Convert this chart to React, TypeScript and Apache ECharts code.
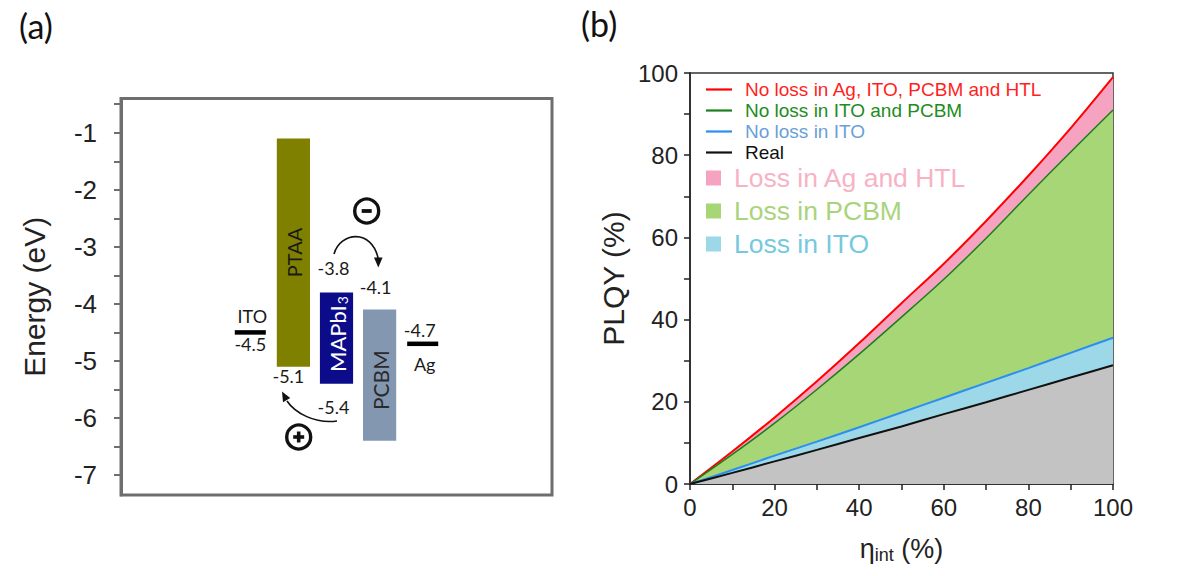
import { useEffect, useRef } from "react";
import * as echarts from "echarts";

// ---------- (a) energy-level diagram, values in eV ----------
const layerNames = ["PTAA", "MAPbI3", "PCBM"];
const layerTop = [-1.1, -3.8, -4.1];
const layerBottom = [-5.1, -5.4, -6.4];
const electrodeNames = ["ITO", "Ag"];
const electrodeLevels = [-4.5, -4.7];
const energyTicks = [-1, -2, -3, -4, -5, -6, -7];

// ---------- (b) PLQY versus internal efficiency, in % ----------
const etaInt = [0, 10, 20, 30, 40, 50, 60, 70, 80, 90, 100];
const plqyNoLossAll = [0, 7.9, 16.2, 25.0, 34.3, 44.0, 53.6, 64.0, 75.0, 86.6, 99.0];
const plqyNoLossItoPcbm = [0, 7.2, 14.8, 23.0, 31.6, 40.6, 49.8, 59.8, 70.4, 80.8, 91.0];
const plqyNoLossIto = [0, 3.4, 6.9, 10.3, 13.8, 17.4, 21.0, 24.6, 28.2, 31.9, 35.6];
const plqyReal = [0, 2.7, 5.5, 8.3, 11.2, 14.0, 17.0, 19.9, 22.9, 25.9, 28.9];
const plqyTicks = [0, 20, 40, 60, 80, 100];

const lineNames = [
  "No loss in Ag, ITO, PCBM and HTL",
  "No loss in ITO and PCBM",
  "No loss in ITO",
  "Real",
];
const lossNames = ["Loss in Ag and HTL", "Loss in PCBM", "Loss in ITO"];

// ---------- styling ----------
const SANS = "Liberation Sans, Arial, sans-serif";
const HUMANIST = "Lato, Open Sans, sans-serif";
const layerColors = ["#7f7f00", "#0c0c8a", "#8497b0"];
const layerTextColors = ["#1a1a1a", "#ffffff", "#2a2a2a"];
const layerFontSize = [20, 22, 21];
const layerNameShift = [0, -4, 5];
const topLabelGap = [0, 24, 23];
const bottomLabelGap = [9, 23, 0];
const labelShiftX = [-5, -3, -4];
const lineColors = ["#ff0000", "#1b7f1b", "#2a8ff0", "#111111"];
const lineWidths = [2, 1.5, 2, 2];
const lineTextColors = ["#ff1f1f", "#1e8c1e", "#6a9fd8", "#111111"];
const lossColors = ["#f6a3c1", "#a6d676", "#9dd8e8"];
const lossTextColors = ["#f7b3c4", "#a9d47c", "#74c9e0"];
const realFill = "#c3c3c3";
const LINE_ICON = "path://M0 0H26V2.2H0Z";

// horizontal slots of the diagram (hidden x axis runs 0..100)
const slotX = (k: number) => 30 + 10 * k;
const BAR_HALF = 3.85;
const ELECTRODE_HALF = 3.6;

const fmt = (v: number) => v.toFixed(1);
const richName = (n: string) =>
  n.replace(/^(.*?)(\d+)$/, "{m|$1}{s|$2}").replace(/^([^{].*)$/, "{m|$1}");

export default function App() {
  const ref = useRef<HTMLDivElement>(null);

  useEffect(() => {
    if (!ref.current) return;
    const chart = echarts.init(ref.current, undefined, { renderer: "svg" });

    const levelText = (text: string, x: number, y: number) => ({
      type: "text",
      x,
      y,
      style: {
        text,
        fill: "#1a1a1a",
        font: `18px ${HUMANIST}`,
        align: "center",
        verticalAlign: "middle",
      },
    });

    const layerSeries = {
      type: "custom",
      xAxisIndex: 0,
      yAxisIndex: 0,
      z: 3,
      data: layerNames.map((_, i) => [i, layerTop[i], layerBottom[i]]),
      renderItem: (_p: any, api: any) => {
        const i = api.value(0);
        const cx = slotX(i + 1);
        const tl = api.coord([cx - BAR_HALF, api.value(1)]);
        const br = api.coord([cx + BAR_HALF, api.value(2)]);
        const midX = (tl[0] + br[0]) / 2;
        const children: any[] = [
          {
            type: "rect",
            shape: { x: tl[0], y: tl[1], width: br[0] - tl[0], height: br[1] - tl[1] },
            style: { fill: layerColors[i] },
          },
          {
            type: "text",
            x: midX + 1,
            y: (tl[1] + br[1]) / 2 + layerNameShift[i],
            rotation: Math.PI / 2,
            style: {
              text: richName(layerNames[i]),
              align: "center",
              verticalAlign: "middle",
              rich: {
                m: {
                  fill: layerTextColors[i],
                  fontSize: layerFontSize[i],
                  fontFamily: HUMANIST,
                  lineHeight: 24,
                },
                s: {
                  fill: layerTextColors[i],
                  fontSize: 14,
                  fontFamily: HUMANIST,
                  lineHeight: 24,
                  padding: [9, 0, 0, 1],
                },
              },
            },
          },
        ];
        if (topLabelGap[i] > 0)
          children.push(levelText(fmt(api.value(1)), midX + labelShiftX[i], tl[1] - topLabelGap[i]));
        if (bottomLabelGap[i] > 0)
          children.push(levelText(fmt(api.value(2)), midX + labelShiftX[i], br[1] + bottomLabelGap[i]));
        return { type: "group", children };
      },
    };

    const electrodeSeries = {
      type: "custom",
      xAxisIndex: 0,
      yAxisIndex: 0,
      z: 3,
      data: electrodeNames.map((_, i) => [i, electrodeLevels[i]]),
      renderItem: (_p: any, api: any) => {
        const i = api.value(0);
        const cx = slotX(i === 0 ? 0 : 4);
        const a = api.coord([cx - ELECTRODE_HALF, api.value(1)]);
        const b = api.coord([cx + ELECTRODE_HALF, api.value(1)]);
        const mid = (a[0] + b[0]) / 2;
        const valueText = fmt(api.value(1));
        const children: any[] = [
          {
            type: "line",
            shape: { x1: a[0], y1: a[1], x2: b[0], y2: b[1] },
            style: { stroke: "#000", lineWidth: 4.5 },
          },
        ];
        if (i === 0) {
          children.push(levelText(electrodeNames[i], mid + 2, a[1] - 16));
          children.push(levelText(valueText, mid, a[1] + 12));
        } else {
          children.push(levelText(valueText, mid - 3, a[1] - 14));
          children.push(levelText(electrodeNames[i], mid + 2, a[1] + 20));
        }
        return { type: "group", children };
      },
    };

    const toPairs = (ys: number[]) => etaInt.map((x, k) => [x, ys[k]]);
    const lossData = [plqyNoLossAll, plqyNoLossItoPcbm, plqyNoLossIto];
    const lineData = [plqyNoLossAll, plqyNoLossItoPcbm, plqyNoLossIto, plqyReal];

    const lossSeries = lossNames.map((name, k) => ({
      name,
      type: "line",
      xAxisIndex: 1,
      yAxisIndex: 1,
      z: 1,
      smooth: 0.3,
      showSymbol: false,
      symbol: "none",
      color: lossColors[k],
      itemStyle: { color: lossColors[k] },
      lineStyle: { width: 0 },
      areaStyle: { color: lossColors[k], opacity: 1 },
      data: toPairs(lossData[k]),
    }));

    const realArea = {
      name: "realArea",
      type: "line",
      xAxisIndex: 1,
      yAxisIndex: 1,
      z: 1,
      smooth: 0.3,
      showSymbol: false,
      symbol: "none",
      lineStyle: { width: 0 },
      areaStyle: { color: realFill, opacity: 1 },
      data: toPairs(plqyReal),
    };

    const lineSeries = lineNames.map((name, k) => ({
      name,
      type: "line",
      xAxisIndex: 1,
      yAxisIndex: 1,
      z: 3,
      smooth: 0.3,
      showSymbol: false,
      symbol: "none",
      color: lineColors[k],
      itemStyle: { color: lineColors[k] },
      lineStyle: { color: lineColors[k], width: lineWidths[k] },
      data: toPairs(lineData[k]),
    }));

    const tickCustom = energyTicks.flatMap((v) => [v + 0.5, v]);

    const option: any = {
      animation: false,
      backgroundColor: "#ffffff",
      grid: [
        {
          left: 121,
          top: 98.5,
          width: 431,
          height: 396.5,
          show: true,
          borderColor: "#6e6e6e",
          borderWidth: 3,
        },
        {
          left: 690,
          top: 73,
          width: 423,
          height: 411,
          show: true,
          borderColor: "#333",
          borderWidth: 1.5,
        },
      ],
      xAxis: [
        { gridIndex: 0, type: "value", min: 0, max: 100, show: false },
        {
          gridIndex: 1,
          type: "value",
          min: 0,
          max: 100,
          interval: 20,
          name: "{e|η}{s|int}{e| (%)}",
          nameLocation: "middle",
          nameGap: 50,
          nameTextStyle: {
            rich: {
              e: { fontSize: 27, fontFamily: SANS, color: "#222" },
              s: { fontSize: 18, fontFamily: SANS, color: "#222", padding: [12, 0, 0, 0] },
            },
          },
          axisLine: { show: true, onZero: false, lineStyle: { color: "#222", width: 1.5 } },
          axisTick: { show: true, inside: false, length: 6, lineStyle: { color: "#222", width: 1.5 } },
          minorTick: { show: true, splitNumber: 2, length: 6, lineStyle: { color: "#222", width: 1.5 } },
          axisLabel: {
            margin: 11,
            fontSize: 24,
            fontFamily: SANS,
            color: "#222",
            customValues: plqyTicks,
          },
          splitLine: { show: false },
        },
      ],
      yAxis: [
        {
          gridIndex: 0,
          type: "value",
          min: -7.35,
          max: -0.4,
          name: "Energy (eV)",
          nameLocation: "middle",
          nameGap: 72,
          nameTextStyle: { fontSize: 30, fontFamily: SANS, color: "#222" },
          axisLine: { show: true, onZero: false, lineStyle: { color: "#6e6e6e", width: 3 } },
          axisTick: {
            show: true,
            inside: false,
            length: 7,
            customValues: tickCustom,
            lineStyle: { color: "#6e6e6e", width: 2 },
          },
          axisLabel: {
            margin: 24,
            fontSize: 26,
            fontFamily: SANS,
            color: "#222",
            customValues: energyTicks,
          },
          splitLine: { show: false },
        },
        {
          gridIndex: 1,
          type: "value",
          min: 0,
          max: 100,
          interval: 20,
          name: "PLQY (%)",
          nameLocation: "middle",
          nameGap: 62,
          nameTextStyle: { fontSize: 30, fontFamily: SANS, color: "#222" },
          axisLine: { show: true, onZero: false, lineStyle: { color: "#222", width: 1.5 } },
          axisTick: { show: true, inside: false, length: 6, lineStyle: { color: "#222", width: 1.5 } },
          minorTick: { show: true, splitNumber: 2, length: 6, lineStyle: { color: "#222", width: 1.5 } },
          axisLabel: { margin: 12, fontSize: 24, fontFamily: SANS, color: "#222" },
          splitLine: { show: false },
        },
      ],
      legend: [
        {
          orient: "vertical",
          left: 706,
          top: 80,
          padding: 0,
          itemGap: 2,
          itemWidth: 26,
          itemHeight: 12,
          selectedMode: false,
          textStyle: { fontSize: 19, fontFamily: SANS, lineHeight: 19, padding: [0, 0, 0, 8] },
          data: lineNames.map((name, k) => ({
            name,
            icon: LINE_ICON,
            textStyle: { color: lineTextColors[k] },
          })),
        },
        {
          orient: "vertical",
          left: 706,
          top: 164,
          padding: 0,
          itemGap: 5,
          itemWidth: 15,
          itemHeight: 15,
          icon: "rect",
          selectedMode: false,
          textStyle: { fontSize: 26.5, fontFamily: SANS, lineHeight: 28, padding: [0, 0, 0, 8] },
          data: lossNames.map((name, k) => ({ name, textStyle: { color: lossTextColors[k] } })),
        },
      ],
      graphic: [
        {
          type: "text",
          left: 19,
          top: 8,
          style: { text: "(a)", font: `34px ${HUMANIST}`, fill: "#111" },
        },
        {
          type: "text",
          left: 581,
          top: 6,
          style: { text: "(b)", font: `34px ${HUMANIST}`, fill: "#111" },
        },
        // electron transfer arrow with charge marker
        {
          type: "bezierCurve",
          shape: { x1: 334, y1: 254, cpx1: 340, cpy1: 232, cpx2: 372, cpy2: 228, x2: 378.3, y2: 259 },
          style: { stroke: "#111", lineWidth: 1.6, fill: null },
          z: 10,
        },
        {
          type: "polygon",
          shape: { points: [[378.3, 267.5], [374, 257.5], [382.6, 257.5]] },
          style: { fill: "#111" },
          z: 10,
        },
        {
          type: "circle",
          shape: { cx: 366.7, cy: 211, r: 12 },
          style: { stroke: "#111", lineWidth: 3.4, fill: "#fff" },
          z: 10,
        },
        {
          type: "line",
          shape: { x1: 361.7, y1: 211, x2: 371.7, y2: 211 },
          style: { stroke: "#111", lineWidth: 3.8 },
          z: 11,
        },
        // hole transfer arrow with charge marker
        {
          type: "bezierCurve",
          shape: { x1: 337, y1: 421, cpx1: 315, cpy1: 424, cpx2: 295, cpy2: 413, x2: 287, y2: 401 },
          style: { stroke: "#111", lineWidth: 1.6, fill: null },
          z: 10,
        },
        {
          type: "polygon",
          shape: { points: [[282, 391.5], [290.2, 398], [283, 402.2]] },
          style: { fill: "#111" },
          z: 10,
        },
        {
          type: "circle",
          shape: { cx: 298.7, cy: 437, r: 12 },
          style: { stroke: "#111", lineWidth: 3.4, fill: "#fff" },
          z: 10,
        },
        {
          type: "line",
          shape: { x1: 293.2, y1: 437, x2: 304.2, y2: 437 },
          style: { stroke: "#111", lineWidth: 3.6 },
          z: 11,
        },
        {
          type: "line",
          shape: { x1: 298.7, y1: 431.5, x2: 298.7, y2: 442.5 },
          style: { stroke: "#111", lineWidth: 3.6 },
          z: 11,
        },
      ],
      series: [layerSeries, electrodeSeries, ...lossSeries, realArea, ...lineSeries],
    };

    chart.setOption(option);
    return () => chart.dispose();
  }, []);

  return (
    <div
      ref={ref}
      style={{ position: "absolute", left: 0, top: 0, width: 1194, height: 576, background: "#fff" }}
    />
  );
}
